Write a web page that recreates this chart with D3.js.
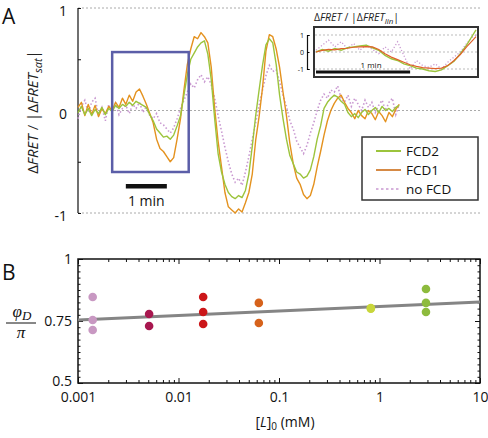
<!DOCTYPE html>
<html><head><meta charset="utf-8">
<script src="https://cdn.jsdelivr.net/npm/d3@7"></script>
<style>
body{margin:0;background:#fff;}
svg{display:block;font-family:"Open Sans",sans-serif;}
</style></head><body>
<svg id="c" width="488" height="438"></svg>
<script>
// ---------- Panel A data ----------
const timeA = d3.range(0, 471, 5); // seconds
const fcd1 = [0.03,0.08,-0.05,0.06,-0.04,0.05,-0.06,0.02,-0.03,0.04,0.0,0.08,0.03,0.12,0.06,0.15,0.09,0.18,0.21,0.14,
  0.06,-0.03,-0.12,-0.28,-0.37,-0.4,-0.45,-0.5,-0.46,-0.28,-0.08,0.2,0.45,0.6,0.72,0.7,0.76,0.72,0.66,0.42,
  0.02,-0.3,-0.55,-0.8,-0.94,-0.97,-1.0,-0.96,-0.99,-0.9,-0.8,-0.62,-0.29,-0.06,0.22,0.58,0.74,0.72,0.6,0.42,
  0.18,-0.05,-0.32,-0.52,-0.66,-0.72,-0.82,-0.86,-0.83,-0.72,-0.55,-0.4,-0.24,-0.1,0.0,0.07,0.12,0.15,0.08,0.02,
  -0.02,-0.08,0.0,-0.05,-0.08,0.0,-0.03,-0.09,-0.01,-0.05,-0.11,-0.02,-0.06,0.01,0.06];
const fcd2 = [-0.02,0.04,-0.04,0.02,-0.05,0.01,-0.03,0.03,-0.04,0.02,-0.01,0.05,0.02,0.06,0.04,0.08,0.05,0.09,0.07,0.05,
  0.03,-0.04,-0.1,-0.18,-0.22,-0.26,-0.25,-0.28,-0.24,-0.15,-0.05,0.15,0.35,0.5,0.56,0.62,0.66,0.68,0.55,0.3,
  -0.08,-0.42,-0.6,-0.72,-0.8,-0.84,-0.86,-0.83,-0.85,-0.78,-0.62,-0.35,-0.05,0.2,0.44,0.64,0.7,0.66,0.45,0.15,
  -0.08,-0.28,-0.44,-0.52,-0.6,-0.62,-0.66,-0.64,-0.58,-0.45,-0.28,-0.15,0.02,0.08,0.12,0.15,0.13,0.09,0.06,-0.02,
  -0.06,-0.03,-0.07,-0.02,0.01,-0.04,0.0,0.03,-0.02,0.04,0.0,0.02,-0.01,0.03,0.05];
const noFcd = [-0.08,0.04,0.1,-0.02,0.08,0.12,-0.05,0.03,-0.1,0.06,-0.03,0.07,-0.04,0.02,0.05,-0.03,0.06,0.02,0.08,-0.02,
  0.04,-0.05,-0.08,-0.03,-0.12,-0.14,-0.18,-0.22,-0.17,-0.08,0.02,0.1,0.18,0.26,0.22,0.3,0.35,0.28,0.33,0.25,
  0.12,-0.05,-0.2,-0.36,-0.5,-0.62,-0.7,-0.66,-0.73,-0.6,-0.45,-0.28,-0.12,0.05,0.2,0.34,0.44,0.38,0.4,0.28,
  0.15,0.04,-0.1,-0.18,-0.3,-0.36,-0.42,-0.34,-0.22,-0.12,0.0,0.1,0.16,0.12,0.2,0.18,0.24,0.12,0.08,0.15,
  0.04,0.12,0.06,0.0,0.1,0.03,0.08,-0.02,0.05,0.1,0.0,0.08,0.12,-0.04,0.06];
const yTicksA = [-1, -0.5, 0, 0.5, 1];
const boxT = [50, 162], boxV = [-0.6, 0.57];
const barT = [70, 130], barV = -0.74;
const legendNames = ["FCD2", "FCD1", "no FCD"];

// ---------- Inset data ----------
const timeI = [0,4,8,12,16,20,24,28,32,36,40,44,48,52,56,60,64,68,72,76,80,84,88,92,96,100,102];
const insG = [0.0,0.15,0.05,0.2,0.1,0.25,0.3,0.35,0.4,0.25,0.1,-0.2,-0.4,-0.5,-0.7,-0.8,-0.95,-1.0,-1.1,-1.15,-1.05,-0.8,-0.55,-0.1,0.4,1.0,1.3];
const insO = [0.0,0.1,0.15,0.12,0.2,0.22,0.28,0.3,0.32,0.3,0.15,-0.1,-0.3,-0.45,-0.6,-0.75,-0.85,-0.92,-0.95,-0.98,-0.95,-0.8,-0.5,-0.15,0.3,0.7,0.9];
const insP = [0.1,0.4,0.7,0.3,0.6,0.2,0.5,0.1,0.4,0.15,-0.1,0.3,0.0,0.6,-0.2,-1.0,-0.5,-0.8,-0.9,-0.7,-1.0,-0.6,-0.3,0.0,0.5,0.9,1.0];
const insTicks = [-1, 0, 1];

// ---------- Panel B data ----------
const groupsX = [0.0014, 0.0051, 0.0176, 0.063, 0.82, 2.9];
const groupsY = [[0.847,0.754,0.714],[0.778,0.730],[0.847,0.786,0.738],[0.823,0.742],[0.802,0.800],[0.879,0.823,0.786]];
const groupColors = ["#c898c2","#a8174f","#cc1619","#d6621b","#c8d63b","#8dbb3d"];
const fitX = [0.001, 10], fitY = [0.754, 0.827];
const xTickLabelsB = ["0.001","0.01","0.1","1","10"];
const yTickLabelsB = ["0.5","0.75","1"];

const C = {green:"#9cc43c", orange:"#e4921f", pink:"#c999d1", legOrange:"#d68a45", insOrange:"#e0602a"};
const svg = d3.select("#c");

// ================= Panel A =================
const xA = d3.scaleLinear().domain([0, 470]).range([78, 399.2]);
const yA = d3.scaleLinear().domain([-1, 1]).range([213, 8]);

svg.append("g").selectAll("line").data([-1,0,1]).join("line")
  .attr("x1", 78).attr("x2", 482).attr("y1", d=>yA(d)).attr("y2", d=>yA(d))
  .attr("stroke","#aaa").attr("stroke-width",1).attr("stroke-dasharray","2,2");

const axA = svg.append("g").attr("transform","translate(78,0)")
  .call(d3.axisLeft(yA).tickValues(yTicksA).tickSize(-3).tickPadding(11)
    .tickFormat(d => Number.isInteger(d) ? (d<0?"-1":String(d)) : ""));
axA.select(".domain").attr("stroke","#111").attr("stroke-width",1.2).attr("d","M0,8V213");
axA.selectAll("text").attr("font-size",14).attr("fill","#111").attr("font-family","Open Sans").attr("dy","0.55em");
axA.selectAll("line").attr("stroke","#111");

const lineA = d3.line().x((d,i)=>xA(timeA[i])).y(d=>yA(d));
svg.append("path").datum(noFcd).attr("d",lineA).attr("fill","none")
  .attr("stroke",C.pink).attr("stroke-width",1.6).attr("stroke-dasharray","1.5,2.2");
svg.append("path").datum(fcd1).attr("d",lineA).attr("fill","none")
  .attr("stroke",C.orange).attr("stroke-width",1.4).attr("stroke-linejoin","round");
svg.append("path").datum(fcd2).attr("d",lineA).attr("fill","none")
  .attr("stroke",C.green).attr("stroke-width",1.4).attr("stroke-linejoin","round");

svg.append("rect").attr("x",xA(boxT[0])).attr("y",yA(boxV[1]))
  .attr("width",xA(boxT[1])-xA(boxT[0])).attr("height",yA(boxV[0])-yA(boxV[1]))
  .attr("fill","none").attr("stroke","#5b5ea8").attr("stroke-width",2.5);
svg.append("line").attr("x1",xA(barT[0])).attr("x2",xA(barT[1])).attr("y1",yA(barV)).attr("y2",yA(barV))
  .attr("stroke","#111").attr("stroke-width",4.5);
svg.append("text").attr("x",(xA(barT[0])+xA(barT[1]))/2).attr("y",206).attr("text-anchor","middle")
  .attr("font-size",14).attr("fill","#111").text("1 min");

const yl = svg.append("text").attr("transform","translate(38,112) rotate(-90)").attr("text-anchor","middle")
  .attr("font-size",15).attr("fill","#222");
yl.append("tspan").text("Δ");
yl.append("tspan").attr("font-style","italic").text("FRET");
yl.append("tspan").text(" / |Δ");
yl.append("tspan").attr("font-style","italic").text("FRET");
yl.append("tspan").attr("font-style","italic").attr("font-size",11).attr("dy",4).text("sat");
yl.append("tspan").attr("dy",-4).text("|");

svg.append("text").attr("x",2).attr("y",24).attr("font-size",21).attr("fill","#111").text("A");

const lg = svg.append("g");
lg.append("rect").attr("x",362).attr("y",137).attr("width",116).attr("height",63)
  .attr("fill","#fff").attr("stroke","#333").attr("stroke-width",1.5);
const legCols = [C.green, C.legOrange, C.pink];
legendNames.forEach((n,i)=>{
  const y = 151 + i*19;
  lg.append("line").attr("x1",376).attr("x2",401).attr("y1",y).attr("y2",y)
    .attr("stroke",legCols[i]).attr("stroke-width", i==2?1.5:2)
    .attr("stroke-dasharray", i==2?"2.5,2.5":null);
  lg.append("text").attr("x",406).attr("y",y+5).attr("font-size",13.5).attr("fill","#111").text(n);
});

// ================= Inset =================
const xI = d3.scaleLinear().domain([0, 102]).range([316, 476]);
const yI = d3.scaleLinear().domain([-1, 1]).range([69, 35]);
svg.append("rect").attr("x",314).attr("y",27).attr("width",164).attr("height",50)
  .attr("fill","#fff").attr("stroke","#333").attr("stroke-width",2);
svg.append("g").selectAll("line").data(insTicks).join("line")
  .attr("x1",315).attr("x2",477).attr("y1",d=>yI(d)).attr("y2",d=>yI(d))
  .attr("stroke","#aaa").attr("stroke-width",0.8).attr("stroke-dasharray","2,2");
const lineI = d3.line().x((d,i)=>xI(timeI[i])).y(d=>yI(d));
svg.append("path").datum(insP).attr("d",lineI).attr("fill","none")
  .attr("stroke",C.pink).attr("stroke-width",1.3).attr("stroke-dasharray","1.2,2");
svg.append("path").datum(insG).attr("d",lineI).attr("fill","none")
  .attr("stroke",C.green).attr("stroke-width",1.4);
svg.append("path").datum(insO).attr("d",lineI).attr("fill","none")
  .attr("stroke",C.insOrange).attr("stroke-width",1.2);
svg.append("line").attr("x1",xI(0)).attr("x2",xI(60)).attr("y1",72).attr("y2",72)
  .attr("stroke","#111").attr("stroke-width",3);
svg.append("text").attr("x",(xI(0)+xI(60))/2+8).attr("y",68).attr("text-anchor","middle")
  .attr("font-size",8).attr("fill","#111").text("1 min");
const axI = svg.append("g").attr("transform","translate(307,0)")
  .call(d3.axisLeft(yI).tickValues(insTicks).tickSize(-2.5).tickPadding(3).tickFormat(d=>d<0?"-1":String(d)));
axI.select(".domain").attr("stroke","#111").attr("stroke-width",1.2);
axI.selectAll("text").attr("font-size",7).attr("fill","#111").attr("font-family","Open Sans");
const it = svg.append("text").attr("x",314).attr("y",21).attr("font-size",10.5).attr("fill","#222");
it.append("tspan").text("Δ");
it.append("tspan").attr("font-style","italic").text("FRET");
it.append("tspan").text(" / |Δ");
it.append("tspan").attr("font-style","italic").text("FRET");
it.append("tspan").attr("font-style","italic").attr("font-size",8).attr("dy",3).text("lin");
it.append("tspan").attr("dy",-3).text("|");

// ================= Panel B =================
const xB = d3.scaleLog().domain([0.001, 10]).range([78, 480]);
const yB = d3.scaleLinear().domain([0.5, 1]).range([383, 259]);
const majorX = xB.ticks().filter(d => Math.abs(Math.log10(d) - Math.round(Math.log10(d))) < 1e-6);
const minorX = xB.ticks().filter(d => !majorX.includes(d));
const minorY = d3.range(0.5, 1.0001, 0.025).map(d=>+d.toFixed(3));

function styleAx(g){ g.select(".domain").remove(); g.selectAll("line").attr("stroke","#111").attr("stroke-width",1); g.selectAll("text").attr("font-size",14).attr("fill","#111").attr("font-family","Open Sans"); }

svg.append("g").attr("transform","translate(0,383)")
  .call(d3.axisBottom(xB).tickValues(minorX).tickSize(-3).tickFormat("")).call(styleAx);
svg.append("g").attr("transform","translate(0,383)")
  .call(d3.axisBottom(xB).tickValues(majorX).tickSize(-5).tickPadding(9).tickFormat((d,i)=>xTickLabelsB[i])).call(styleAx);
svg.append("g").attr("transform","translate(0,259)")
  .call(d3.axisTop(xB).tickValues(minorX).tickSize(-3).tickFormat("")).call(styleAx);
svg.append("g").attr("transform","translate(0,259)")
  .call(d3.axisTop(xB).tickValues(majorX).tickSize(-5).tickFormat("")).call(styleAx);
svg.append("g").attr("transform","translate(78,0)")
  .call(d3.axisLeft(yB).tickValues(minorY).tickSize(-2.5).tickFormat("")).call(styleAx);
const ayB = svg.append("g").attr("transform","translate(78,0)")
  .call(d3.axisLeft(yB).tickValues([0.5,0.75,1]).tickSize(-5).tickPadding(6).tickFormat((d,i)=>yTickLabelsB[i])).call(styleAx);
ayB.selectAll("text").attr("dy", d => d===0.5 ? "0.15em" : "0.32em");
svg.append("g").attr("transform","translate(480,0)")
  .call(d3.axisRight(yB).tickValues(minorY).tickSize(-2.5).tickFormat("")).call(styleAx);
svg.append("g").attr("transform","translate(480,0)")
  .call(d3.axisRight(yB).tickValues([0.5,0.75,1]).tickSize(-5).tickFormat("")).call(styleAx);

svg.append("rect").attr("x",78).attr("y",259).attr("width",402).attr("height",124)
  .attr("fill","none").attr("stroke","#111").attr("stroke-width",1.5);

svg.append("line").attr("x1",xB(fitX[0])).attr("x2",xB(fitX[1])).attr("y1",yB(fitY[0])).attr("y2",yB(fitY[1]))
  .attr("stroke","#858585").attr("stroke-width",3);

groupsX.forEach((gx,i)=>{
  svg.append("g").selectAll("circle").data(groupsY[i]).join("circle")
    .attr("cx",xB(gx)).attr("cy",d=>yB(d)).attr("r",4.3).attr("fill",groupColors[i]);
});

svg.append("text").attr("x",2).attr("y",280).attr("font-size",21).attr("fill","#111").text("B");

const xt = svg.append("text").attr("x",285).attr("y",427).attr("text-anchor","middle").attr("font-size",14).attr("fill","#111");
xt.append("tspan").text("[");
xt.append("tspan").attr("font-style","italic").text("L");
xt.append("tspan").text("]");
xt.append("tspan").attr("font-size",10).attr("dy",3).text("0");
xt.append("tspan").attr("dy",-3).text(" (mM)");

const ft = svg.append("text").attr("x",22).attr("y",317).attr("text-anchor","middle")
  .attr("font-size",17).attr("font-family","Liberation Serif").attr("fill","#111");
ft.append("tspan").attr("font-style","italic").text("φ");
ft.append("tspan").attr("font-style","italic").attr("font-size",13).attr("dy",3).text("D");
svg.append("line").attr("x1",6).attr("x2",36).attr("y1",323).attr("y2",323).attr("stroke","#111").attr("stroke-width",1);
svg.append("text").attr("x",21).attr("y",338).attr("text-anchor","middle")
  .attr("font-size",17).attr("font-family","Liberation Serif").attr("font-style","italic").attr("fill","#111").text("π");
</script>
</body></html>
